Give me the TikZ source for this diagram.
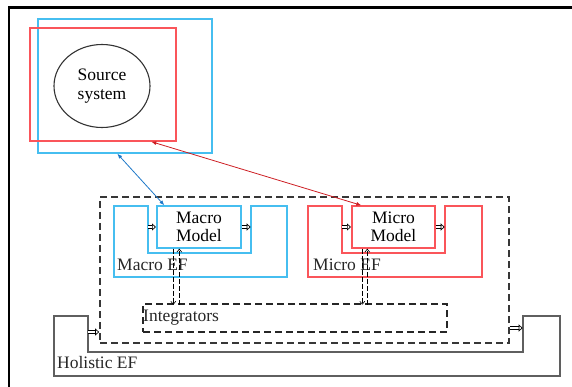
\documentclass[tikz,border=0pt]{standalone}
\usepackage{fontspec}
\setmainfont{Liberation Serif}
\usetikzlibrary{arrows.meta,calc,shapes.geometric}
\definecolor{cblue}{RGB}{70,190,240}
\definecolor{cred}{RGB}{250,85,90}
\definecolor{ablue}{RGB}{30,120,200}
\definecolor{ared}{RGB}{205,30,35}
\definecolor{hgray}{RGB}{95,95,95}
\definecolor{dgray}{RGB}{55,55,55}
\begin{document}
\begin{tikzpicture}[x=1pt,y=-1pt,
  font=\fontsize{17.5}{18}\selectfont,
  bluebox/.style={draw=cblue,line width=1.4pt,rectangle,inner sep=0pt},
  redbox/.style={draw=cred,line width=1.4pt,rectangle,inner sep=0pt},
  dashbox/.style={draw=dgray,line width=1.1pt,dash pattern=on 7pt off 4pt,rectangle,inner sep=0pt},
  lbl/.style={anchor=west,inner sep=0pt,text=black!85},
  dbl/.style={draw=black,double,double distance=2pt,line width=0.7pt,shorten >=0.3pt,-{Triangle[open,length=4pt,width=7pt,line width=0.7pt]}},
  vdash/.style={draw=black,line width=0.6pt,dash pattern=on 5pt off 2pt,-{Straight Barb[length=3pt,width=5pt]}},
  link/.style={line width=0.8pt,{Latex[length=5pt,width=4pt]}-{Latex[length=5pt,width=4pt]}}]
\useasboundingbox (0,0) rectangle (572,387);
% outer frame
\draw[line width=2.4pt] (9,387) -- (9,7.5) -- (572,7.5);
% source system
\node[bluebox,minimum width=174pt,minimum height=134pt] (srcB) at (125,86) {};
\node[redbox,minimum width=146pt,minimum height=113pt] (srcR) at (103,84.5) {};
\node[ellipse,draw=black!80,line width=1.1pt,minimum width=96pt,minimum height=83pt,inner sep=0pt,align=center,font=\fontsize{17.5}{19}\selectfont] (src) at (102,86) {Source\\system};
% big dashed frame
\node[dashbox,minimum width=409pt,minimum height=146pt] (ef) at (304.5,270) {};
% Holistic EF
\draw[hgray,line width=1.3pt] (54,316) coordinate (h1) -- (88,316) -- (88,352) -- (523,352) -- (523,316) -- (560,316) -- (560,376) -- (54,376) -- cycle;
\coordinate (hl) at (88,332);
\coordinate (hr) at (523,328);
\node[lbl] (holl) at (57,363) {Holistic EF};
% Macro EF
\draw[cblue,line width=1.4pt] (114,206) -- (148,206) -- (148,253) -- (251,253) -- (251,206) -- (287,206) -- (287,277) -- (114,277) -- cycle;
\coordinate (mal) at (148,227);
\coordinate (mar) at (251,227);
\node[bluebox,minimum width=84pt,minimum height=42pt,align=center] (macM) at (199,227) {Macro\\Model};
\node[lbl] (macl) at (117,265) {Macro EF};
% Micro EF
\draw[cred,line width=1.4pt] (308,206) -- (342,206) -- (342,253) -- (445,253) -- (445,206) -- (482,206) -- (482,277) -- (308,277) -- cycle;
\coordinate (mil) at (342,227);
\coordinate (mir) at (445,227);
\node[redbox,minimum width=83pt,minimum height=42pt,align=center] (micM) at (393.5,227) {Micro\\Model};
\node[lbl] (micl) at (313,265) {Micro EF};
% Integrators
\node[dashbox,draw=black!85,minimum width=304pt,minimum height=28pt] (integ) at (295,318) {};
\node[lbl] (intl) at (143,318) {Integrators};
% model arrows
\draw[dbl] (mal) -- (macM.west);
\draw[dbl] (macM.east) -- (mar);
\draw[dbl] (mil) -- (micM.west);
\draw[dbl] (micM.east) -- (mir);
% vertical dashed arrows
\draw[vdash] ($(macM.south west)+(17,0)$) -- ($(macM.south west)+(17,56)$);
\draw[vdash] ($(macM.south west)+(23,56)$) -- ($(macM.south west)+(23,0)$);
\draw[vdash] ($(micM.south west)+(11,0)$) -- ($(micM.south west)+(11,56)$);
\draw[vdash] ($(micM.south west)+(16,56)$) -- ($(micM.south west)+(16,0)$);
% holistic arrows
\draw[dbl] (hl) -- (hl -| ef.west);
\draw[dbl] (hr -| ef.east) -- (hr);
% links to source
\draw[link,ablue] ($(srcB.south west)+(80,0)$) -- ($(macM.north west)+(8,0)$);
\draw[link,ared] ($(srcR.south west)+(122,0)$) -- ($(micM.north west)+(10,0)$);
\end{tikzpicture}
\end{document}
